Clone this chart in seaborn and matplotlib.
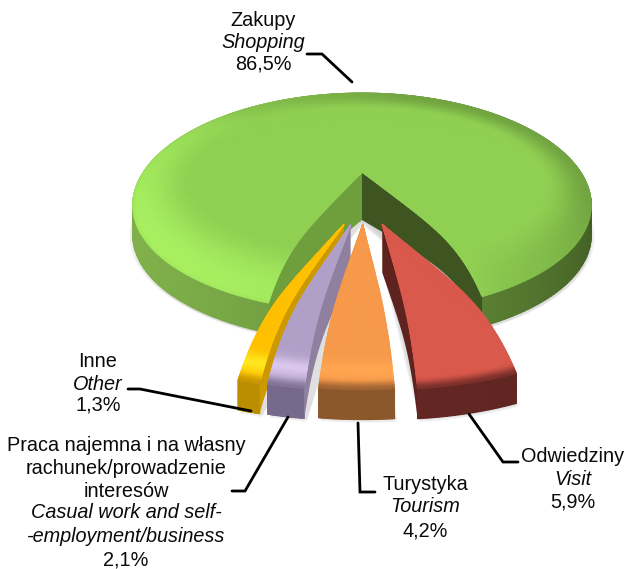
import numpy as np
import matplotlib
matplotlib.use("Agg")
import matplotlib.pyplot as plt
import seaborn as sns

# ---- data ----
categories = ["Zakupy", "Odwiedziny", "Turystyka", "Praca", "Inne"]
values = [86.5, 5.9, 4.2, 2.1, 1.3]
explode = [0, 0.565, 0.54, 0.557, 0.57]
top_colors = ["#8FCF52", "#D9594C", "#F6994B", "#B0A0C8", "#FFC000"]
hi_colors = ["#A8F060", "#D9594C", "#FFA650", "#DCC8EE", "#FFE81E"]
side_colors = ["#7FB04A", "#6A2825", "#8F5A2C", "#7A6C8E", "#BD8E00"]
side_dark = ["#3F5A22", "#5A2320", "#85542A", "#6E6080", "#B58800"]
wall_colors = ["#6F9E3C", "#5E231E", "#85542A", "#8F80A0", "#CC9900"]
label_lines = [
    ["Zakupy", "Shopping", "86,5%"],
    ["Odwiedziny", "Visit", "5,9%"],
    ["Turystyka", "Tourism", "4,2%"],
    ["Praca najemna i na własny", "rachunek/prowadzenie", "interesów",
     "Casual work and self-", "-employment/business", "2,1%"],
    ["Inne", "Other", "1,3%"],
]
label_styles = [
    ["normal", "italic", "normal"],
    ["normal", "italic", "normal"],
    ["normal", "italic", "normal"],
    ["normal", "normal", "normal", "italic", "italic", "normal"],
    ["normal", "italic", "normal"],
]
label_x = [263, 573, 425, 126, 98]
label_y = [[20, 42, 64], [456, 479, 502], [484, 507, 531],
           [445, 468, 491, 513, 537, 560], [361, 384, 405]]
leaders = [
    [(307, 54), (322, 54), (352, 82)],
    [(518, 462), (503, 462), (469, 414)],
    [(375, 492), (360, 492), (358, 423)],
    [(232, 491), (245, 491), (288, 417)],
    [(128, 389), (140, 389), (251, 411)],
]

sns.set_theme(style="white")
plt.rcParams["font.family"] = ["Liberation Sans", "DejaVu Sans"]

fig, ax = plt.subplots(figsize=(6.25, 5.69), dpi=100)
fig.subplots_adjust(0, 0, 1, 1)

wedges, _ = ax.pie(values, explode=explode, startangle=-111.0, counterclock=False,
                   colors=sns.color_palette(top_colors))
geom = [(w.center, w.theta1, w.theta2) for w in wedges]
for w in wedges:
    w.remove()
ax.set_aspect("auto")
ax.set_xlim(0, 625)
ax.set_ylim(569, 0)
ax.axis("off")

# projection of the tilted disc
CX, CY, A, B, K, D = 362, 172, 227, 90, 0.14, 35.6
XSHRINK, XSHIFT = 0.45, 2
RIM_DEPTH, APEX_DEPTH = 30, 48


def project(c, r, th):
    cx = c[0] * XSHRINK
    u = cx + r * np.cos(th)
    v = c[1] + r * np.sin(th)
    w = 1 + K * v
    shift = XSHIFT if (c[0] != 0 or c[1] != 0) else 0
    px = CX + shift + A * u / w
    py = CY - B * v / w + D * r ** 6 * np.clip((1 - v) / 2, 0, 1.15)
    return px, py


def rgb(h):
    return np.array(matplotlib.colors.to_rgb(h))


def smooth(a, b, x):
    t = np.clip((x - a) / (b - a), 0, 1)
    return t * t * (3 - 2 * t)


def mesh(X, Y, C, z):
    ax.pcolormesh(X, Y, C, shading="gouraud", zorder=z)


def draw_slice(i, z):
    c, t1, t2 = geom[i]
    is_main = i == 0
    n = 260 if is_main else 40
    t1r, t2r = np.radians(t1), np.radians(t2)
    ths = np.linspace(t1r, t2r, n)
    rs = np.concatenate([np.linspace(0, 0.8, 30), np.linspace(0.81, 1, 40)])
    R, TH = np.meshgrid(rs, ths)
    X, Y = project(c, R, TH)

    # soft shadow under the piece
    ex, ey = project(c, 1.0, ths)
    ax0, ay0 = project(c, 0.0, 0.0)
    ox = np.concatenate([[ax0], ex, [ax0]])
    oy = np.concatenate([[ay0 + APEX_DEPTH], ey + RIM_DEPTH, [ay0 + APEX_DEPTH]])
    shifts = [(-3, 1), (3, 2), (1, 3)] if is_main else [(3, 1), (2, 3)]
    for dx, dy in shifts:
        ax.fill(ox + dx, oy + dy, color="#808080", alpha=0.13, lw=0, zorder=z)

    # outer side
    zs = np.linspace(0, 1, 3)
    Tz, Zz = np.meshgrid(ths, zs)
    sx, sy = project(c, 1.0, Tz)
    lit = 0.5 + 0.5 * np.cos(Tz - np.radians(200))
    col = (rgb(side_dark[i])[None, None, :] * (1 - lit[..., None])
           + rgb(side_colors[i])[None, None, :] * lit[..., None])
    mesh(sx, sy + RIM_DEPTH * Zz, col, z + 0.1)

    # inner walls (red shows its left wall, purple and yellow their right wall)
    wall_sides = {0: [t1r, t2r], 1: [t1r], 2: [], 3: [t2r], 4: [t2r]}[i]
    for th in wall_sides:
        rr = np.linspace(0, 1, 60)
        wx, wy = project(c, rr, np.full_like(rr, th))
        d = APEX_DEPTH - (APEX_DEPTH - RIM_DEPTH) * rr
        hex_c = wall_colors[i]
        if is_main:
            hex_c = "#6F9E3C" if np.cos(th) < 0 else "#3E5522"
        ax.fill(np.concatenate([wx, wx[::-1]]),
                np.concatenate([wy, (wy + d)[::-1]]),
                color=hex_c, lw=0, zorder=z + 0.2)

    # top surface
    base, hi, dark = rgb(top_colors[i]), rgb(hi_colors[i]), rgb(side_dark[i])
    if is_main:
        L = np.clip(np.cos(TH - np.radians(215)), -1, 1)
        band = smooth(0.72, 0.97, R) * np.clip(L, 0, 1)
        dim = smooth(0.8, 1.0, R) * np.clip(-L + 0.25, 0, 1) * 0.36
        edge = smooth(0.99, 1.0, R) * 0.1
    else:
        band = np.exp(-((R - 0.945) / 0.03) ** 2)
        dim = np.zeros_like(R)
        edge = smooth(0.97, 1.0, R) * 0.85
    C = base[None, None, :] * np.ones(R.shape + (3,))
    C = C + (hi - base) * band[..., None]
    C = C + (dark - C) * dim[..., None]
    C = C + (rgb(side_colors[i]) - C) * edge[..., None]
    mesh(X, Y, np.clip(C, 0, 1), z + 0.3)


for order, idx in enumerate([0, 4, 3, 2, 1]):
    draw_slice(idx, 2 + order)

# leader lines and labels
for pts in leaders:
    xs, ys = zip(*pts)
    ax.plot(xs, ys, color="black", lw=2.0, zorder=20, solid_joinstyle="miter")
for lines, styles, x, ys in zip(label_lines, label_styles, label_x, label_y):
    for text, st, y in zip(lines, styles, ys):
        ax.text(x, y, text, style=st, ha="center", va="center",
                fontsize=14.3, color="#0a0a0a", zorder=21)

fig.savefig("out.png", dpi=100)
